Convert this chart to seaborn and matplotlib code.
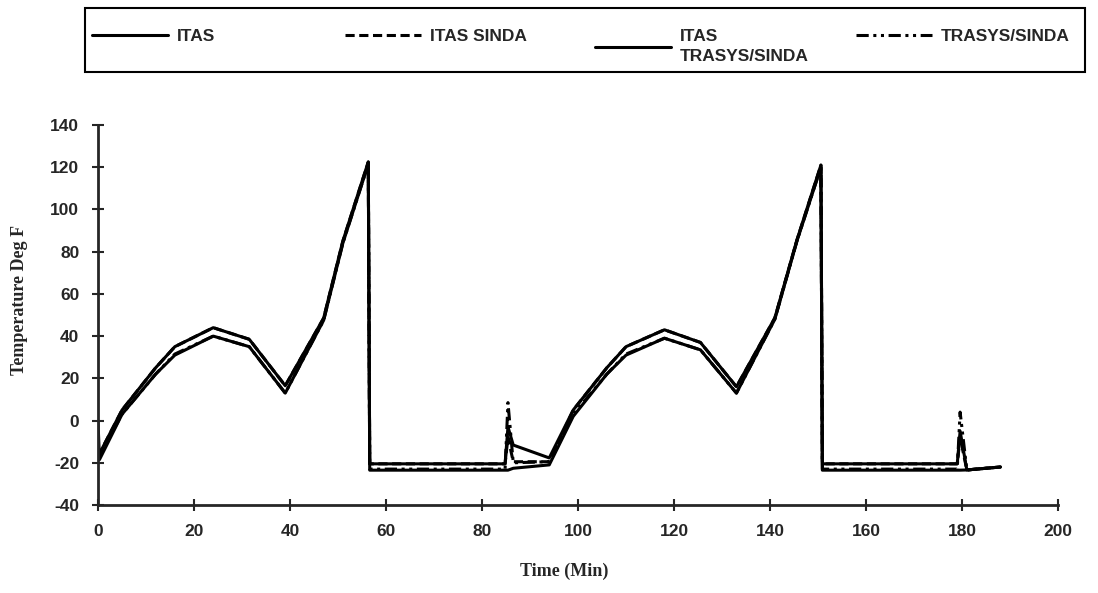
import matplotlib
matplotlib.use("Agg")
import matplotlib.pyplot as plt
import seaborn as sns
import pandas as pd
from matplotlib.patches import Rectangle

sns.set_style("ticks")
plt.rcParams['font.family'] = ['Liberation Sans', 'DejaVu Sans']
plt.rcParams['axes.unicode_minus'] = False

# time values (minutes) shared by three of the series
time_min = [0, 5, 12, 16, 24, 31.5, 39, 47, 51, 56.3, 56.6, 84.8, 85.4, 86.5, 94,
            99, 106, 110, 118, 125.5, 133, 141, 145.6, 150.6, 150.9, 179, 179.6, 181, 188]
# ITAS has an extra first point (vertical drop at t=0)
time_itas = [0, 0.3, 5, 12, 16, 24, 31.5, 39, 47, 51, 56.3, 56.6, 84.8, 85.4, 86.5, 94,
             99, 106, 110, 118, 125.5, 133, 141, 145.6, 150.6, 150.9, 179, 179.6, 181, 188]

temp_itas = [-1, -18.5, 3, 22, 31, 40, 35, 13, 47.5, 84, 121.5, -23.5, -23.5, -23.5, -22.6, -21,
             2, 22, 31, 39, 33.5, 13, 48, 85, 120, -23.5, -23.5, -23.5, -23.4, -22]
temp_itas_sinda = [-17, 5, 25, 35, 44, 38.5, 16.5, 48.5, 85, 122.5, -20.5, -20.5, -8, -19.5, -19.5,
                   5, 25, 35, 43, 37, 16, 48.6, 85.5, 121, -20.5, -20.5, -8, -23.4, -22]
temp_itas_trasys = [-17, 5, 25, 35, 44, 38.5, 16.5, 48.5, 85, 122.5, -20.5, -20.5, -3, -11.6, -17.7,
                    5, 25, 35, 43, 37, 16, 48.6, 85.5, 121, -20.5, -20.5, -5, -23.4, -22]
temp_trasys_sinda = [-18, 3, 22, 31.5, 40, 35, 13, 47.5, 84, 121.5, -23, -23, 8.5, -20, -19.5,
                     3, 22, 31.5, 39, 33.5, 13, 48, 85, 120, -23, -23, 4, -23.4, -22]

labels = ['ITAS', 'ITAS SINDA', 'ITAS\nTRASYS/SINDA', 'TRASYS/SINDA']
styles = ['-', (0, (3, 1.5)), '-', (0, (4, 1.5, 1, 1.5, 1, 1.5))]

series = [(time_itas, temp_itas), (time_min, temp_itas_sinda),
          (time_min, temp_itas_trasys), (time_min, temp_trasys_sinda)]

fig = plt.figure(figsize=(10.98, 5.93), dpi=100)
ax = fig.add_axes([0.0893, 0.1484, 0.8743, 0.6408])

handles = []
for (t, v), lab, ls in zip(series, labels, styles):
    df = pd.DataFrame({'time': t, 'temp': v})
    sns.lineplot(data=df, x='time', y='temp', ax=ax, color='black', lw=2.2,
                 linestyle=ls, sort=False, estimator=None, legend=False)
    handles.append(ax.get_lines()[-1])

ax.set_xlim(0, 200)
ax.set_ylim(-40, 140)
ax.set_xticks(range(0, 201, 20))
ax.set_yticks(range(-40, 141, 20))
ax.tick_params(direction='inout', length=9, width=1.5, pad=9)
for lab in ax.get_xticklabels() + ax.get_yticklabels():
    lab.set_fontweight('bold')
    lab.set_fontsize(12.5)
sns.despine(ax=ax)
for s in ['left', 'bottom']:
    ax.spines[s].set_linewidth(2)

ax.set_xlabel('Time (Min)', family='Liberation Serif', fontweight='bold', fontsize=13)
ax.set_ylabel('Temperature Deg F', family='Liberation Serif', fontweight='bold', fontsize=13)
ax.xaxis.set_label_coords(0.486, -0.153)
ax.yaxis.set_label_coords(-0.073, 0.54)

# legend box and entries
fig.patches.append(Rectangle((0.0774, 0.8786), 0.9107, 0.1079, transform=fig.transFigure,
                             fill=False, edgecolor='black', lw=1.5))
x_starts = [0.0838, 0.3142, 0.5419, 0.7796]
for h, lab, x0 in zip(handles, labels, x_starts):
    leg = fig.legend([h], [lab], loc='upper left', bbox_to_anchor=(x0, 0.951), frameon=False,
                     borderpad=0, borderaxespad=0, handlelength=4.4, handletextpad=0.5,
                     prop={'weight': 'bold', 'size': 12.5})
    for txt in leg.get_texts():
        txt.set_linespacing(1.45)

fig.savefig('out.png', dpi=100)
